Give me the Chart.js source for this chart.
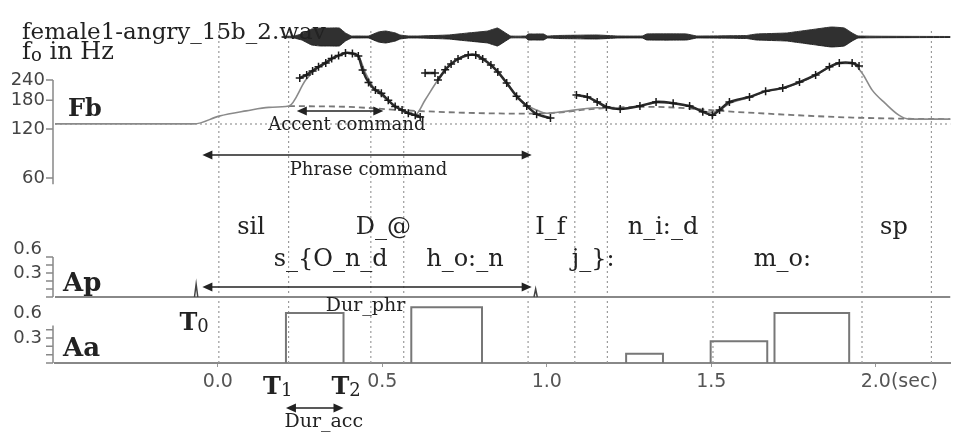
<!DOCTYPE html>
<html>
<head>
<meta charset="utf-8">
<script src="https://cdn.jsdelivr.net/npm/chart.js@4.4.1/dist/chart.umd.min.js"></script>
<style>
  html, body { margin: 0; padding: 0; background: #fff; }
  #wrap { position: relative; width: 956px; height: 432px; }
</style>
</head>
<body>
<div id="wrap"><canvas id="fujisakiChart"></canvas></div>
<script>
// ---- data (time in seconds) ----
const xTicks = [0, 0.5, 1.0, 1.5, 2.0];
const f0Ticks = [240, 180, 120, 60];
const apTickLabels = [0.6, 0.3];
const aaTickLabels = [0.6, 0.3];
const apLadder = [0, 0.1, 0.2, 0.3, 0.4, 0.5];
const aaLadder = [0, 0.1, 0.2, 0.3, 0.4];

// segment boundaries (dotted verticals)
const segBounds = [0.003, 0.215, 0.465, 0.565, 0.943, 1.085, 1.184, 1.505, 1.958, 2.169];

// phoneme labels, two rows
const phonUpper = ['sil', 'D_@', 'I_f', 'n_i:_d', 'sp'];
const phonUpperT = [0.101, 0.503, 1.011, 1.353, 2.055];
const phonLower = ['s_{O_n_d', 'h_o:_n', 'j_}:', 'm_o:'];
const phonLowerT = [0.343, 0.751, 1.141, 1.716];

// waveform envelope (relative amplitude)
const waveT = [0.194, 0.231, 0.255, 0.267, 0.285, 0.312, 0.339, 0.369, 0.388, 0.406, 0.427, 0.458, 0.488, 0.510,
  0.540, 0.554, 0.579, 0.609, 0.700, 0.760, 0.820, 0.850, 0.870, 0.890, 0.936, 0.943, 0.960, 0.990, 1.002, 1.032,
  1.153, 1.214, 1.290, 1.304, 1.425, 1.456, 1.607, 1.637, 1.728, 1.774, 1.819, 1.865, 1.904, 1.928, 1.946, 2.227];
const waveAmp = [0.05, 0.1, 0.3, 0.5, 0.8, 0.9, 0.9, 0.9, 0.4, 0.1, 0.1, 0.1, 0.5, 0.6,
  0.4, 0.2, 0.1, 0.1, 0.2, 0.4, 0.6, 0.9, 0.5, 0.1, 0.1, 0.3, 0.3, 0.3, 0.1, 0.15,
  0.2, 0.1, 0.1, 0.3, 0.3, 0.1, 0.15, 0.3, 0.4, 0.6, 0.8, 1.0, 0.9, 0.4, 0.1, 0.05];

// measured f0 in Hz (null = gap)
const f0T = [0.249, 0.270, 0.288, 0.306, 0.328, 0.346, 0.367, 0.388, 0.409, 0.427, 0.440, 0.458, 0.479, 0.497,
  0.518, 0.539, 0.560, 0.579, 0.600, 0.615, 0.622, 0.630, 0.660, 0.665, 0.669, 0.691, 0.709, 0.730, 0.761, 0.784,
  0.805, 0.830, 0.851, 0.878, 0.908, 0.939, 0.969, 1.011, 1.050, 1.090, 1.123, 1.153, 1.181, 1.223, 1.283, 1.332,
  1.384, 1.434, 1.474, 1.503, 1.525, 1.555, 1.616, 1.665, 1.717, 1.768, 1.817, 1.859, 1.889, 1.928, 1.949];
const f0Hz = [247, 258, 273, 289, 305, 325, 339, 352, 349, 337, 276, 232, 208, 199,
  180, 165, 157, 150, 146, 142, null, 265, 265, null, 240, 277, 301, 323, 342, 342,
  323, 297, 269, 230, 191, 166, 148, 140, null, 194, 189, 176, 164, 159, 166, 176,
  173, 166, 153, 146, 157, 176, 189, 205, 214, 233, 258, 289, 305, 305, 293];

// model contour (Hz)
const modelT = [-0.495, -0.072, 0.004, 0.086, 0.155, 0.216, 0.267, 0.306, 0.346, 0.397, 0.427, 0.449, 0.479,
  0.518, 0.548, 0.579, 0.600, 0.630, 0.669, 0.709, 0.761, 0.784, 0.830, 0.878, 0.908, 0.939, 0.969, 1.000, 1.032,
  1.153, 1.223, 1.283, 1.332, 1.384, 1.434, 1.474, 1.503, 1.525, 1.555, 1.616, 1.665, 1.717, 1.768, 1.817, 1.859,
  1.889, 1.928, 1.958, 1.989, 2.028, 2.070, 2.101, 2.227];
const modelHz = [129, 129, 144, 155, 163, 166, 240, 289, 325, 352, 337, 265, 208,
  180, 161, 150, 147, 181, 240, 301, 342, 342, 297, 230, 191, 168, 157, 150, 152,
  162, 160, 166, 174, 172, 165, 155, 152, 157, 172, 188, 204, 214, 232, 257, 287,
  303, 303, 265, 208, 173, 146, 138, 138];

// phrase component (Hz) and base frequency
const phraseT = [0.216, 0.40, 0.55, 0.75, 0.96, 1.03, 1.12, 1.22, 1.33, 1.42, 1.55, 1.70, 1.85, 1.93, 2.07, 2.227];
const phraseHz = [166, 164, 157, 151, 149, 151, 158, 163, 164, 161, 154, 148, 143, 141, 139, 138];
const Fb = 129;

// commands
const phrOnset = [-0.066, 0.966];
const phrAmp = [0.16, 0.10];
const accOn = [0.207, 0.588, 1.241, 1.498, 1.692];
const accOff = [0.382, 0.803, 1.353, 1.670, 1.919];
const accAmp = [0.60, 0.67, 0.11, 0.26, 0.60];

// ---- layout: panels share one plot area, each panel has its own hidden y scale ----
const X_MIN = -0.495, X_MAX = 2.227;
const AREA_TOP = 20, AREA_BOTTOM = 363;
function linearRange(zeroPx, pxPerUnit) {
  return { min: -(AREA_BOTTOM - zeroPx) / pxPerUnit, max: (zeroPx - AREA_TOP) / pxPerUnit };
}
function logRange(refVal, refPx, pxPerLn) {
  return { min: refVal * Math.exp(-(AREA_BOTTOM - refPx) / pxPerLn), max: refVal * Math.exp((refPx - AREA_TOP) / pxPerLn) };
}
const waveRange = linearRange(37, 10);
const apRange = linearRange(297, 80);
const aaRange = linearRange(363, 83.3);
const f0Range = logRange(240, 80, 70.7);

const SERIF = '"DejaVu Serif", "Liberation Serif", serif';
const SANS = '"DejaVu Sans", sans-serif';

const pts = (ts, vs) => ts.map((t, i) => ({ x: t, y: vs[i] }));

const boundaryPts = [];
segBounds.forEach(t => { boundaryPts.push({ x: t, y: 0 }, { x: t, y: 4.0 }, { x: t, y: null }); });
const accPts = [];
accOn.forEach((t, i) => {
  accPts.push({ x: t, y: 0 }, { x: t, y: accAmp[i] }, { x: accOff[i], y: accAmp[i] }, { x: accOff[i], y: 0 }, { x: accOff[i], y: null });
});
const phrPts = [];
phrOnset.forEach((t, i) => {
  phrPts.push({ x: t - 0.005, y: 0 }, { x: t, y: phrAmp[i] }, { x: t + 0.005, y: 0 }, { x: t, y: null });
});

// annotation plugin: axis ladders, labels, arrows
const annotate = {
  id: 'annotate',
  afterDraw(chart) {
    const { ctx, chartArea: area, scales } = chart;
    const { x, yF0, yAp, yAa, yWave } = scales;
    const px = t => x.getPixelForValue(t);
    ctx.save();

    const text = (str, cx, cy, font, align, base, color) => {
      ctx.font = font; ctx.textAlign = align || 'center'; ctx.textBaseline = base || 'middle';
      ctx.fillStyle = color || '#222'; ctx.fillText(str, cx, cy);
    };
    // letter with a smaller lowered index (T0, f0)
    const indexed = (main, idx, left, base, size, bold) => {
      const w = bold ? 'bold ' : '';
      ctx.font = `${w}${size}px ${SERIF}`; ctx.textAlign = 'left'; ctx.textBaseline = 'alphabetic';
      ctx.fillStyle = '#222';
      ctx.fillText(main, left, base);
      const mw = ctx.measureText(main).width;
      ctx.font = `${Math.round(size * 0.75)}px ${SERIF}`;
      ctx.fillText(idx, left + mw, base + 2);
      return left + mw + ctx.measureText(idx).width;
    };
    const arrow = (t1, t2, y) => {
      const x1 = px(t1), x2 = px(t2);
      ctx.strokeStyle = '#222'; ctx.fillStyle = '#222'; ctx.lineWidth = 1.5;
      ctx.beginPath(); ctx.moveTo(x1 + 6, y); ctx.lineTo(x2 - 6, y); ctx.stroke();
      [[x1, 1], [x2, -1]].forEach(([hx, d]) => {
        ctx.beginPath(); ctx.moveTo(hx, y); ctx.lineTo(hx + d * 10, y - 4.5); ctx.lineTo(hx + d * 10, y + 4.5);
        ctx.closePath(); ctx.fill();
      });
    };

    // left axis ladders
    const axX = area.left - 2;
    ctx.strokeStyle = '#888'; ctx.lineWidth = 1.5;
    const ladder = (scale, from, to, ticks) => {
      ctx.beginPath();
      ctx.moveTo(axX, scale.getPixelForValue(from)); ctx.lineTo(axX, scale.getPixelForValue(to));
      ticks.forEach(v => { const y = scale.getPixelForValue(v); ctx.moveTo(axX - 7, y); ctx.lineTo(axX, y); });
      ctx.stroke();
    };
    ladder(yF0, 240, 55, f0Ticks);
    ladder(yAp, 0, 0.5, apLadder);
    ladder(yAa, 0, 0.45, aaLadder);
    f0Ticks.forEach(v => text(String(v), axX - 8, yF0.getPixelForValue(v), `18px ${SANS}`, 'right', 'middle', '#444'));
    apTickLabels.forEach(v => text(v.toFixed(1), axX - 11, yAp.getPixelForValue(v), `18px ${SANS}`, 'right', 'middle', '#444'));
    aaTickLabels.forEach(v => text(v.toFixed(1), axX - 11, yAa.getPixelForValue(v), `18px ${SANS}`, 'right', 'middle', '#444'));

    // captions
    text('female1-angry_15b_2.wav', px(-0.595), yWave.getPixelForValue(-0.2), `23px ${SERIF}`, 'left', 'alphabetic');
    const fEnd = indexed('f', 'o', px(-0.595), yF0.getPixelForValue(323), 24, false);
    text(' in Hz', fEnd, yF0.getPixelForValue(323), `24px ${SERIF}`, 'left', 'alphabetic');
    text('Fb', area.left + 13, yF0.getPixelForValue(157), `bold 24px ${SERIF}`, 'left', 'middle');
    text('Ap', area.left + 8, yAp.getPixelForValue(0.16), `bold 26px ${SERIF}`, 'left', 'middle');
    text('Aa', area.left + 8, yAa.getPixelForValue(0.17), `bold 26px ${SERIF}`, 'left', 'middle');

    // phoneme labels
    phonUpper.forEach((s, i) => text(s, px(phonUpperT[i]), yAp.getPixelForValue(0.79), `24px ${SERIF}`, 'center', 'alphabetic'));
    phonLower.forEach((s, i) => text(s, px(phonLowerT[i]), yAp.getPixelForValue(0.39), `24px ${SERIF}`, 'center', 'alphabetic'));

    // command annotations
    arrow(0.240, 0.503, yF0.getPixelForValue(155));
    text('Accent command', px(0.392), yF0.getPixelForValue(127), `18px ${SERIF}`);
    arrow(-0.047, 0.954, yF0.getPixelForValue(83));
    text('Phrase command', px(0.458), yF0.getPixelForValue(67), `18px ${SERIF}`);
    arrow(-0.047, 0.954, yAp.getPixelForValue(0.125));
    text('Dur_phr', px(0.449), yAp.getPixelForValue(-0.11), `19px ${SERIF}`);
    indexed('T', '0', px(-0.068) - 16, yAp.getPixelForValue(-0.31) + 8, 24, true);
    indexed('T', '1', px(0.186) - 16, yAa.getPixelForValue(-0.28) + 8, 24, true);
    indexed('T', '2', px(0.394) - 16, yAa.getPixelForValue(-0.28) + 8, 24, true);
    arrow(accOn[0], accOff[0], yAa.getPixelForValue(-0.54));
    text('Dur_acc', px(0.322), yAa.getPixelForValue(-0.71), `19px ${SERIF}`);

    // unit after the last x tick label
    ctx.font = `19px ${SANS}`;
    const w2 = ctx.measureText('2.0').width;
    text('(sec)', px(2) + w2 / 2, x.top + 8 + 19 * 0.6, `19px ${SANS}`, 'left', 'middle', '#555');
    ctx.restore();
  }
};

Chart.defaults.font.family = SANS;

new Chart(document.getElementById('fujisakiChart').getContext('2d'), {
  type: 'line',
  data: {
    datasets: [
      { // measured f0
        data: pts(f0T, f0Hz), yAxisID: 'yF0', order: 0,
        borderColor: '#2a2a2a', borderWidth: 2.5, pointStyle: 'cross', pointRadius: 4,
        pointBorderColor: '#1a1a1a', pointBorderWidth: 1.5, tension: 0.2
      },
      { // model contour
        data: pts(modelT, modelHz), yAxisID: 'yF0', order: 1,
        borderColor: '#8a8a8a', borderWidth: 1.6, pointRadius: 0, cubicInterpolationMode: 'monotone'
      },
      { // phrase component
        data: pts(phraseT, phraseHz), yAxisID: 'yF0', order: 2,
        borderColor: '#777', borderWidth: 1.8, borderDash: [6, 4], pointRadius: 0, cubicInterpolationMode: 'monotone'
      },
      { // base frequency
        data: [{ x: X_MIN, y: Fb }, { x: X_MAX, y: Fb }], yAxisID: 'yF0', order: 3,
        borderColor: '#aaa', borderWidth: 1.5, borderDash: [2, 3], pointRadius: 0
      },
      { // waveform upper envelope
        data: pts(waveT, waveAmp), yAxisID: 'yWave', order: 4,
        borderColor: '#333', borderWidth: 1, backgroundColor: 'rgba(25,25,25,0.9)', fill: '+1', pointRadius: 0, tension: 0.1
      },
      { // waveform lower envelope
        data: pts(waveT, waveAmp.map(a => -a)), yAxisID: 'yWave', order: 5,
        borderColor: '#333', borderWidth: 1, fill: false, pointRadius: 0, tension: 0.1
      },
      { // accent commands
        data: accPts, yAxisID: 'yAa', order: 6,
        borderColor: '#777', borderWidth: 2, pointRadius: 0, tension: 0
      },
      { // phrase commands
        data: phrPts, yAxisID: 'yAp', order: 7,
        borderColor: '#444', backgroundColor: '#444', borderWidth: 1.5, pointRadius: 0, tension: 0
      },
      { // Ap baseline
        data: [{ x: X_MIN, y: 0 }, { x: X_MAX, y: 0 }], yAxisID: 'yAp', order: 8,
        borderColor: '#888', borderWidth: 2, pointRadius: 0
      },
      { // segment boundaries
        data: boundaryPts, yAxisID: 'yAa', order: 9,
        borderColor: '#9a9a9a', borderWidth: 1.2, borderDash: [2, 3], pointRadius: 0
      }
    ]
  },
  options: {
    responsive: true,
    maintainAspectRatio: false,
    animation: false,
    layout: { padding: { left: 55, right: 1, top: AREA_TOP, bottom: 39 } },
    plugins: { legend: { display: false }, tooltip: { enabled: false } },
    scales: {
      x: {
        type: 'linear', min: X_MIN, max: X_MAX, bounds: 'data',
        afterBuildTicks: s => { s.ticks = xTicks.map(v => ({ value: v })); },
        afterFit: s => { s.height = 30; },
        grid: { drawOnChartArea: false, drawTicks: true, tickLength: 4, color: '#999' },
        border: { display: true, color: '#888', width: 2 },
        ticks: { padding: 4, color: '#555', font: { family: SANS, size: 19 }, maxRotation: 0, autoSkip: false,
          callback: v => Number(v).toFixed(1) }
      },
      yF0: { type: 'logarithmic', display: false, min: f0Range.min, max: f0Range.max, bounds: 'data' },
      yWave: { type: 'linear', display: false, min: waveRange.min, max: waveRange.max, bounds: 'data' },
      yAp: { type: 'linear', display: false, min: apRange.min, max: apRange.max, bounds: 'data' },
      yAa: { type: 'linear', display: false, min: aaRange.min, max: aaRange.max, bounds: 'data' }
    }
  },
  plugins: [annotate]
});
</script>
</body>
</html>
